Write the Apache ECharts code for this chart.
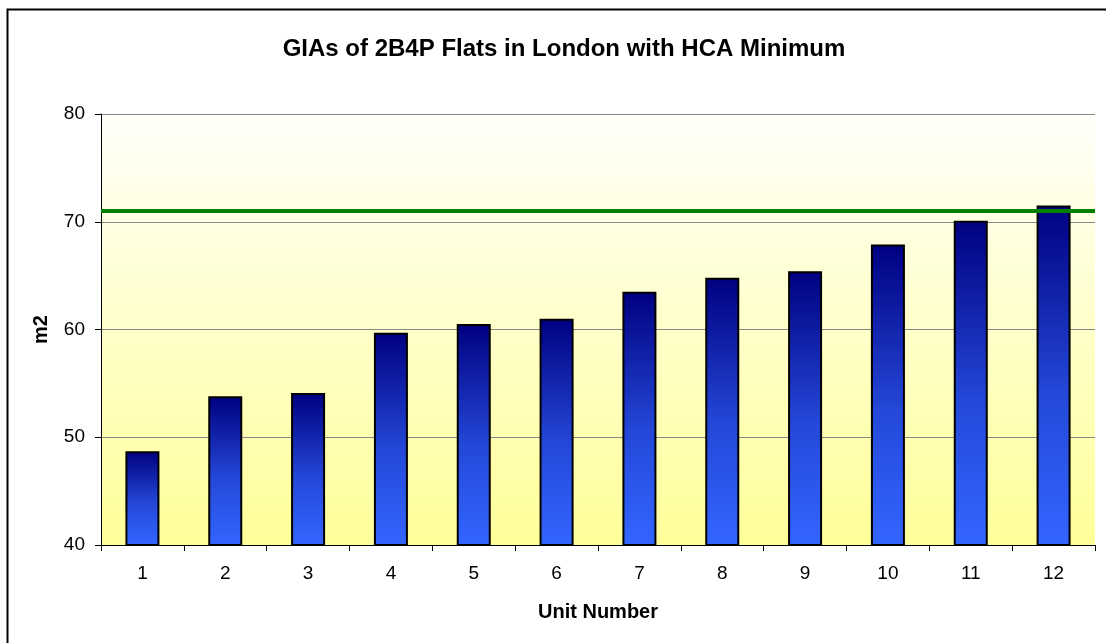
<!DOCTYPE html>
<html><head><meta charset="utf-8">
<script src="https://cdn.jsdelivr.net/npm/echarts@6/dist/echarts.min.js"></script>
<style>html,body{margin:0;padding:0;background:#fff}#c{width:1106px;height:643px}</style>
</head><body><div id="c"></div>
<script>
const categories = ['1','2','3','4','5','6','7','8','9','10','11','12'];
const giaValues = [48.7, 53.8, 54.1, 59.7, 60.5, 61.0, 63.5, 64.8, 65.4, 67.9, 70.1, 71.5];
const hcaMinimum = 71;
const titleText = 'GIAs of 2B4P Flats in London with HCA Minimum';

const chart = echarts.init(document.getElementById('c'), null, {renderer: 'canvas'});
const font = 'Liberation Sans, Arial, sans-serif';
chart.setOption({
  animation: false,
  backgroundColor: '#fff',
  graphic: [{
    type: 'rect', left: 5, top: 7, shape: {width: 1110, height: 650},
    style: {fill: 'none', stroke: '#000', lineWidth: 2}, silent: true, z: 100
  }],
  title: {
    text: titleText, left: 559, textAlign: 'center', top: 32,
    textStyle: {fontFamily: font, fontSize: 24, fontWeight: 'bold', color: '#000'}
  },
  grid: {
    left: 101, right: 11, top: 114, bottom: 98,
    show: true, borderWidth: 0,
    backgroundColor: new echarts.graphic.LinearGradient(0, 0, 0, 1, [
      {offset: 0, color: '#FFFFFA'}, {offset: 1, color: '#FFFF99'}
    ])
  },
  xAxis: {
    type: 'category', data: categories,
    name: 'Unit Number', nameLocation: 'middle', nameGap: 57,
    nameTextStyle: {fontFamily: font, fontSize: 20, fontWeight: 'bold', color: '#000'},
    axisLine: {lineStyle: {color: '#000', width: 1}},
    axisTick: {show: true, length: 6, lineStyle: {color: '#000'}},
    axisLabel: {fontFamily: font, fontSize: 19, color: '#000', margin: 19}
  },
  yAxis: {
    type: 'value', min: 40, max: 80, interval: 10,
    name: 'm2', nameLocation: 'middle', nameGap: 50,
    nameTextStyle: {fontFamily: font, fontSize: 20, fontWeight: 'bold', color: '#000'},
    axisLine: {show: true, lineStyle: {color: '#000', width: 1}},
    axisTick: {show: true, length: 6, lineStyle: {color: '#000'}},
    axisLabel: {fontFamily: font, fontSize: 19, color: '#000', margin: 16},
    splitLine: {show: true, lineStyle: {color: '#888', width: 1}}
  },
  series: [{
    type: 'bar', data: giaValues, barWidth: 34,
    itemStyle: {
      color: new echarts.graphic.LinearGradient(0, 0, 0, 1, [
        {offset: 0, color: '#000080'}, {offset: 0.55, color: '#2448D8'}, {offset: 1, color: '#3366FF'}
      ]),
      borderColor: '#000', borderWidth: 2
    },
    markLine: {
      silent: true, symbol: 'none', label: {show: false},
      lineStyle: {color: '#008000', width: 4, type: 'solid'},
      data: [{yAxis: hcaMinimum}],
      z: 10
    }
  }]
});
</script></body></html>
